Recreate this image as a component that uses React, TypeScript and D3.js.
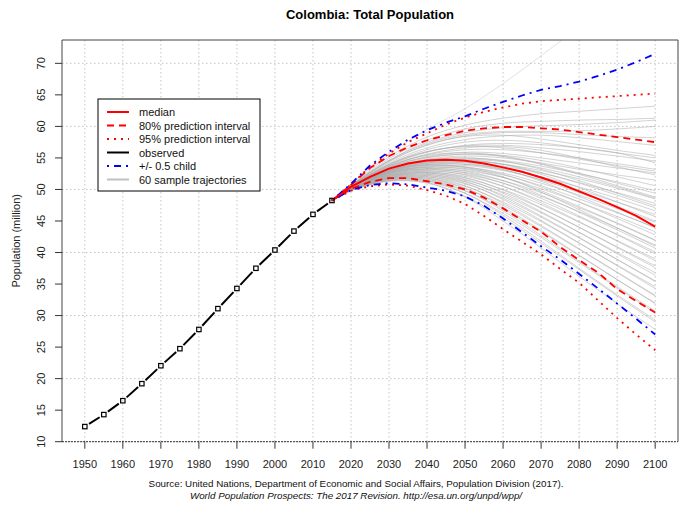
import React from 'react'
import * as d3 from 'd3'

const obsYears = [1950, 1955, 1960, 1965, 1970, 1975, 1980, 1985, 1990, 1995, 2000, 2005, 2010, 2015]
const observed = [12.4, 14.3, 16.5, 19.2, 22.05, 24.75, 27.8, 31.1, 34.3, 37.5, 40.4, 43.4, 46.05, 48.25]

const projYears = [2015, 2020, 2025, 2030, 2035, 2040, 2045, 2050, 2055, 2060, 2065, 2070, 2075, 2080, 2085, 2090, 2095, 2100]
const median = [48.25, 50.4, 52.0, 53.3, 54.1, 54.6, 54.7, 54.55, 54.1, 53.5, 52.8, 51.9, 50.9, 49.7, 48.5, 47.2, 45.8, 44.1]
const upper80 = [48.25, 50.7, 53.4, 55.3, 56.7, 57.8, 58.6, 59.3, 59.7, 59.9, 59.9, 59.7, 59.5, 59.1, 58.7, 58.3, 57.9, 57.5]
const lower80 = [48.25, 50.1, 51.2, 51.8, 51.8, 51.3, 50.8, 50.0, 48.7, 47.0, 45.1, 43.3, 40.9, 38.8, 36.8, 34.2, 32.3, 30.5]
const upper95 = [48.25, 50.8, 53.6, 55.7, 57.5, 58.9, 60.3, 61.4, 62.3, 63.0, 63.6, 64.0, 64.2, 64.4, 64.6, 64.8, 65.0, 65.2]
const lower95 = [48.25, 49.8, 50.5, 50.8, 50.6, 49.9, 49.0, 47.7, 45.8, 43.7, 41.7, 39.7, 37.4, 35.2, 32.4, 29.6, 27.0, 24.5]
const upperHalf = [48.25, 50.9, 53.8, 56.0, 57.9, 59.4, 60.6, 61.6, 62.8, 63.9, 64.9, 65.8, 66.4, 67.1, 68.0, 69.0, 70.2, 71.5]
const lowerHalf = [48.25, 49.9, 50.7, 51.0, 50.8, 50.3, 49.8, 48.9, 47.4, 45.4, 43.2, 41.0, 38.9, 36.6, 34.3, 31.9, 29.5, 27.0]

// sample trajectories, values at 2015 then each decade 2020..2100
const trajYears = [2015, 2020, 2030, 2040, 2050, 2060, 2070, 2080, 2090, 2100]
const trajectories = [
  [48.25, 50.9, 55.6, 59.5, 62.8, 66.8, 71.2, 75.8, 80.5, 85.0],
  [48.25, 50.7, 55.2, 58.3, 60.2, 61.3, 62.0, 62.4, 62.8, 63.2],
  [48.25, 50.6, 54.9, 57.8, 59.6, 60.5, 60.8, 61.0, 61.1, 61.3],
  [48.25, 50.6, 54.6, 57.5, 59.0, 59.8, 60.1, 60.3, 60.6, 61.0],
  [48.25, 50.5, 54.5, 57.0, 58.5, 59.0, 59.0, 58.7, 58.4, 58.2],
  [48.25, 50.5, 54.2, 56.6, 57.9, 58.5, 58.6, 58.2, 57.6, 57.0],
  [48.25, 50.6, 54.4, 57.1, 58.4, 58.6, 58.0, 57.1, 56.2, 55.4],
  [48.25, 50.4, 54.0, 56.3, 57.5, 57.8, 57.4, 56.6, 55.8, 55.0],
  [48.25, 50.5, 53.9, 56.0, 56.9, 57.0, 56.6, 56.0, 55.3, 54.5],
  [48.25, 50.4, 53.8, 55.9, 57.0, 57.3, 57.1, 56.6, 55.8, 54.2],
  [48.25, 50.4, 53.6, 55.5, 56.3, 56.3, 55.8, 55.0, 54.1, 53.2],
  [48.25, 50.5, 53.7, 55.6, 56.6, 56.8, 56.2, 55.0, 53.6, 52.3],
  [48.25, 50.4, 53.5, 55.2, 55.9, 55.7, 55.0, 54.2, 53.4, 52.6],
  [48.25, 50.3, 53.4, 55.0, 55.6, 55.4, 54.6, 53.4, 52.0, 50.6],
  [48.25, 50.4, 53.3, 54.8, 55.3, 55.0, 54.2, 53.2, 52.3, 51.5],
  [48.25, 50.3, 53.2, 54.6, 55.0, 54.6, 53.7, 52.5, 51.2, 49.8],
  [48.25, 50.4, 53.5, 55.1, 55.6, 55.2, 54.0, 52.4, 50.6, 48.8],
  [48.25, 50.3, 53.1, 54.4, 54.8, 54.4, 53.4, 52.0, 50.4, 48.6],
  [48.25, 50.3, 53.0, 54.2, 54.5, 54.0, 53.0, 51.7, 50.2, 48.5],
  [48.25, 50.4, 53.3, 54.7, 55.0, 54.5, 53.2, 51.4, 49.4, 47.4],
  [48.25, 50.2, 52.9, 54.1, 54.3, 53.7, 52.6, 51.1, 49.5, 47.8],
  [48.25, 50.3, 53.0, 54.3, 54.6, 54.0, 52.7, 51.0, 49.1, 47.1],
  [48.25, 50.2, 52.8, 53.9, 54.0, 53.3, 52.0, 50.4, 48.6, 46.6],
  [48.25, 50.3, 53.1, 54.5, 54.7, 54.0, 52.4, 50.3, 48.0, 45.7],
  [48.25, 50.2, 52.7, 53.7, 53.8, 53.0, 51.6, 49.9, 48.0, 46.0],
  [48.25, 50.3, 52.9, 54.0, 54.0, 53.1, 51.5, 49.5, 47.3, 45.0],
  [48.25, 50.2, 52.7, 53.6, 53.5, 52.6, 51.0, 49.1, 47.0, 44.8],
  [48.25, 50.3, 53.0, 54.2, 54.2, 53.2, 51.3, 48.9, 46.4, 43.9],
  [48.25, 50.2, 52.6, 53.5, 53.3, 52.3, 50.6, 48.5, 46.3, 44.0],
  [48.25, 50.2, 52.8, 53.8, 53.6, 52.4, 50.4, 48.0, 45.4, 42.8],
  [48.25, 50.1, 52.5, 53.3, 53.0, 51.9, 50.1, 48.0, 45.7, 43.3],
  [48.25, 50.2, 52.7, 53.5, 53.2, 51.9, 49.8, 47.3, 44.7, 42.0],
  [48.25, 50.1, 52.4, 53.1, 52.7, 51.4, 49.5, 47.1, 44.6, 41.9],
  [48.25, 50.2, 52.6, 53.3, 52.9, 51.4, 49.1, 46.4, 43.6, 40.7],
  [48.25, 50.1, 52.3, 52.9, 52.4, 51.0, 48.9, 46.5, 43.9, 41.2],
  [48.25, 50.1, 52.5, 53.2, 52.6, 51.0, 48.6, 45.8, 42.8, 39.8],
  [48.25, 50.1, 52.2, 52.7, 52.1, 50.5, 48.2, 45.6, 42.9, 40.1],
  [48.25, 50.1, 52.4, 53.0, 52.3, 50.5, 47.9, 44.9, 41.8, 38.7],
  [48.25, 50.0, 52.1, 52.6, 51.8, 50.0, 47.6, 44.8, 41.9, 39.0],
  [48.25, 50.1, 52.3, 52.8, 51.9, 49.9, 47.1, 44.0, 40.8, 37.6],
  [48.25, 50.0, 52.0, 52.4, 51.5, 49.6, 47.0, 44.0, 40.9, 37.9],
  [48.25, 50.1, 52.2, 52.6, 51.6, 49.4, 46.5, 43.2, 39.8, 36.4],
  [48.25, 50.0, 51.9, 52.2, 51.2, 49.1, 46.3, 43.2, 40.0, 36.8],
  [48.25, 50.0, 52.1, 52.4, 51.3, 48.9, 45.8, 42.4, 38.9, 35.4],
  [48.25, 50.0, 51.8, 52.0, 50.9, 48.6, 45.6, 42.3, 38.9, 35.5],
  [48.25, 50.0, 52.0, 52.2, 51.0, 48.4, 45.1, 41.5, 37.9, 34.3],
  [48.25, 49.9, 51.7, 51.8, 50.5, 48.0, 44.9, 41.5, 38.0, 34.6],
  [48.25, 50.0, 51.9, 52.0, 50.6, 47.8, 44.3, 40.6, 36.9, 33.2],
  [48.25, 49.9, 51.6, 51.6, 50.2, 47.5, 44.1, 40.5, 36.8, 33.1],
  [48.25, 49.9, 51.8, 51.8, 50.2, 47.2, 43.5, 39.6, 35.7, 31.9],
  [48.25, 49.9, 51.5, 51.4, 49.8, 46.9, 43.3, 39.5, 35.7, 32.0],
  [48.25, 49.9, 51.7, 51.6, 49.8, 46.6, 42.7, 38.6, 34.6, 30.7],
  [48.25, 49.8, 51.4, 51.2, 49.4, 46.2, 42.4, 38.4, 34.4, 30.4],
  [48.25, 49.9, 51.6, 51.4, 49.4, 45.9, 41.8, 37.5, 33.3, 29.3],
  [48.25, 49.8, 51.3, 51.0, 48.9, 45.5, 41.5, 37.3, 33.1, 29.0],
  [48.25, 49.8, 51.4, 51.1, 48.8, 45.0, 40.7, 36.2, 31.9, 27.8],
  [48.25, 50.5, 54.0, 56.0, 56.8, 56.6, 55.8, 54.8, 53.8, 52.9],
  [48.25, 50.4, 53.7, 55.4, 55.8, 55.3, 54.1, 52.6, 51.0, 49.4],
  [48.25, 50.6, 54.6, 57.3, 58.7, 59.2, 59.2, 59.3, 59.6, 60.0],
  [48.25, 50.2, 52.9, 53.9, 53.5, 52.0, 49.6, 46.8, 43.9, 41.0],
]

const xTicks = d3.range(1950, 2101, 10)
const yTicks = d3.range(10, 71, 5)
const yGrid = d3.range(10, 71, 10)

const legendItems = [
  { label: 'median', color: 'red', dash: '' },
  { label: '80% prediction interval', color: 'red', dash: '7,5' },
  { label: '95% prediction interval', color: 'red', dash: '2,5' },
  { label: 'observed', color: 'black', dash: '' },
  { label: '+/- 0.5 child', color: 'blue', dash: '2,5,7,5' },
  { label: '60 sample trajectories', color: '#c0c0c0', dash: '' },
]

const font = 'Liberation Sans, Arial, Helvetica, sans-serif'

export default function App() {
  const W = 681, H = 506
  const left = 62, right = 678, top = 40, bottom = 441.7
  const x = d3.scaleLinear().domain([1944, 2106]).range([left, right])
  const y = d3.scaleLinear().domain([10, 73.7]).range([bottom, top])

  const projLine = d3.line<number>().x((_, i) => x(projYears[i])).y(d => y(d))
  const trajLine = d3.line<number>().x((_, i) => x(trajYears[i])).y(d => y(d)).curve(d3.curveCatmullRom)

  // observed segments with gaps around points (type = "b")
  const gap = 5
  const obsSegs = observed.slice(1).map((v, i) => {
    const x0 = x(obsYears[i]), y0 = y(observed[i]), x1 = x(obsYears[i + 1]), y1 = y(v)
    const len = Math.hypot(x1 - x0, y1 - y0), ux = (x1 - x0) / len, uy = (y1 - y0) / len
    return { x1: x0 + ux * gap, y1: y0 + uy * gap, x2: x1 - ux * gap, y2: y1 - uy * gap }
  })

  const lg = { x: 98, y: 99, w: 162, h: 92 }

  return (
    <svg width={W} height={H} style={{ position: 'absolute', left: 0, top: 0, background: 'white' }} fontFamily={font}>
      <defs>
        <clipPath id='plot'>
          <rect x={left} y={top} width={right - left} height={bottom - top} />
        </clipPath>
      </defs>
      <rect width={W} height={H} fill='white' />
      <text x={370} y={19} textAnchor='middle' fontSize={13} fontWeight='bold'>Colombia: Total Population</text>

      {/* grid */}
      {xTicks.map(t => (
        <line key={'gx' + t} x1={x(t)} x2={x(t)} y1={top} y2={bottom} stroke='#c4c4c4' strokeDasharray='1.5,2.5' />
      ))}
      {yGrid.map(t => (
        <line key={'gy' + t} x1={left} x2={right} y1={y(t)} y2={y(t)} stroke='#c4c4c4' strokeDasharray='1.5,2.5' />
      ))}

      <g clipPath='url(#plot)'>
        {trajectories.map((tr, i) => (
          <path key={'t' + i} d={trajLine(tr) as string} fill='none' stroke='#a8a8a8' strokeOpacity={i === 0 ? 0.35 : 0.5} strokeWidth={1} />
        ))}
        <path d={projLine(upper95) as string} fill='none' stroke='red' strokeWidth={1.8} strokeDasharray='2,5' />
        <path d={projLine(lower95) as string} fill='none' stroke='red' strokeWidth={1.8} strokeDasharray='2,5' />
        <path d={projLine(upper80) as string} fill='none' stroke='red' strokeWidth={1.8} strokeDasharray='7,5' />
        <path d={projLine(lower80) as string} fill='none' stroke='red' strokeWidth={1.8} strokeDasharray='7,5' />
        <path d={projLine(upperHalf) as string} fill='none' stroke='blue' strokeWidth={1.8} strokeDasharray='2,5,7,5' />
        <path d={projLine(lowerHalf) as string} fill='none' stroke='blue' strokeWidth={1.8} strokeDasharray='2,5,7,5' />
        <path d={projLine(median) as string} fill='none' stroke='red' strokeWidth={2} />
        {obsSegs.map((s, i) => (
          <line key={'o' + i} {...s} stroke='black' strokeWidth={2} />
        ))}
        {observed.map((v, i) => (
          <rect key={'p' + i} x={x(obsYears[i]) - 2.2} y={y(v) - 2.2} width={4.4} height={4.4} fill='none' stroke='black' strokeWidth={1.2} />
        ))}
      </g>

      {/* box */}
      <path d={`M${left},${bottom}V${top}H${right}V${bottom}`} fill='none' stroke='#444' strokeWidth={1} />
      <line x1={left} x2={right} y1={bottom} y2={bottom} stroke='#333' strokeDasharray='2,1' />

      {/* x axis */}
      {xTicks.map(t => (
        <g key={'xt' + t}>
          <line x1={x(t)} x2={x(t)} y1={bottom} y2={bottom + 7} stroke='#333' />
          <text x={x(t)} y={468} textAnchor='middle' fontSize={11} fill='#222'>{t}</text>
        </g>
      ))}

      {/* y axis */}
      {yTicks.map(t => (
        <g key={'yt' + t}>
          <line x1={left - 7} x2={left} y1={y(t)} y2={y(t)} stroke='#333' />
          <text transform={`translate(45,${y(t)}) rotate(-90)`} textAnchor='middle' fontSize={11} fill='#222'>{t}</text>
        </g>
      ))}
      <text transform={`translate(20,${(top + bottom) / 2}) rotate(-90)`} textAnchor='middle' fontSize={11} fill='#222'>Population (million)</text>

      {/* legend */}
      <rect x={lg.x} y={lg.y} width={lg.w} height={lg.h} fill='white' stroke='black' strokeWidth={1} />
      {legendItems.map((it, i) => {
        const yy = lg.y + 13 + i * 13.5
        return (
          <g key={'l' + i}>
            <line x1={lg.x + 9} x2={lg.x + 31} y1={yy} y2={yy} stroke={it.color} strokeWidth={2} strokeDasharray={it.dash || undefined} />
            <text x={lg.x + 41} y={yy + 4} fontSize={11} fill='#111'>{it.label}</text>
          </g>
        )
      })}

      {/* source */}
      <text x={356} y={487} textAnchor='middle' fontSize={9.8} fill='#111'>Source: United Nations, Department of Economic and Social Affairs, Population Division (2017).</text>
      <text x={356} y={499} textAnchor='middle' fontSize={9.8} fontStyle='italic' fill='#111'>World Population Prospects: The 2017 Revision. http://esa.un.org/unpd/wpp/</text>
    </svg>
  )
}
